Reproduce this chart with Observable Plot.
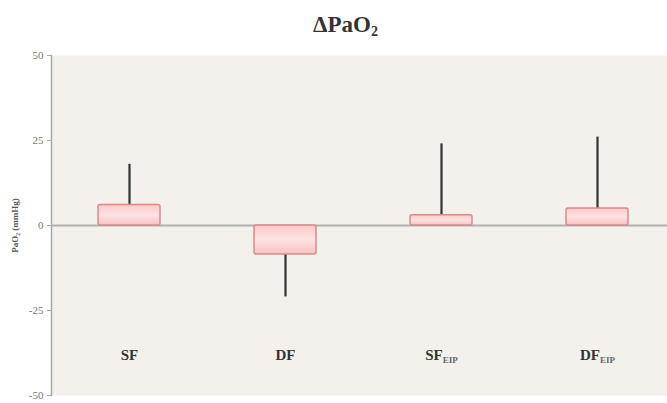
<!DOCTYPE html>
<html><head><meta charset="utf-8">
<script src="https://cdn.jsdelivr.net/npm/d3@7"></script>
<script src="https://cdn.jsdelivr.net/npm/@observablehq/plot@0.6"></script>
<style>
body{margin:0;background:#fff;width:667px;height:403px;overflow:hidden;font-family:"Liberation Serif",serif}
#title{height:45px;line-height:50px;text-align:center;font-weight:bold;font-size:23px;color:#333;padding-left:24px;box-sizing:border-box}
#title sub{font-size:14px;vertical-align:-4px}
</style></head><body>
<div id="title">ΔPaO<sub>2</sub></div>
<div id="chart"></div>
<script>
const categories = ["SF", "DF", "SF", "DF"];
const subscripts = ["", "", "EIP", "EIP"];
const keys = ["SF", "DF", "SF_EIP", "DF_EIP"];
const boxValues = [6, -8.5, 3, 5];
const whiskerValues = [18, -21, 24, 26];
const yTicks = [-50, -25, 0, 25, 50];
const labelY = -38;

const data = keys.map((k, i) => ({key: k, label: categories[i], sub: subscripts[i], box: boxValues[i], whisker: whiskerValues[i]}));

const chart = Plot.plot({
  width: 667, height: 358,
  marginTop: 10, marginBottom: 8, marginLeft: 51, marginRight: 0,
  style: {fontFamily: "Liberation Serif, serif", background: "transparent", overflow: "hidden"},
  x: {domain: keys, paddingInner: 0.6, paddingOuter: 0.3, range: [51, 675], axis: null},
  y: {domain: [-50, 50], ticks: yTicks},
  marks: [
    Plot.frame({fill: "#f4f1ec", stroke: null}),
    Plot.frame({anchor: "left", stroke: "#a8a8a8", strokeWidth: 1.5}),
    Plot.axisY({ticks: yTicks, tickSize: 4, stroke: "#a8a8a8", fill: "#777", fontSize: 11, label: null, tickPadding: 4, tickFormat: d => String(d)}),
    Plot.axisY({ticks: [], label: "PaO₂ (mmHg)", labelArrow: "none", labelAnchor: "center", labelOffset: 40, fontSize: 9, fontWeight: "bold", fill: "#555"}),
    Plot.ruleY([0], {stroke: "#b0b0b0", strokeWidth: 2}),
    Plot.ruleX(data, {x: "key", y1: "box", y2: "whisker", stroke: "#333", strokeWidth: 2.2}),
    Plot.barY(data, {x: "key", y1: 0, y2: "box", fill: "url(#pinkgrad)", stroke: "#d88a8a", strokeWidth: 1.5, rx: 2}),
    Plot.text(data, {x: "key", y: () => labelY, text: "label", fontSize: 15, fontWeight: "bold", fill: "#333"})
  ]
});

const defs = d3.select(chart).insert("defs", ":first-child");
const g = defs.append("linearGradient").attr("id", "pinkgrad").attr("x1", 0).attr("x2", 0).attr("y1", 0).attr("y2", 1);
g.append("stop").attr("offset", "0%").attr("stop-color", "#fbc8c8");
g.append("stop").attr("offset", "50%").attr("stop-color", "#fde2e2");
g.append("stop").attr("offset", "100%").attr("stop-color", "#f8c2c2");

d3.select(chart).selectAll('g[aria-label="text"] text').each(function(d, i) {
  const s = subscripts[i];
  if (s) {
    d3.select(this).append("tspan").attr("font-size", 9).attr("dy", "0.4em").attr("fill", "#666").text(s);
  }
});

document.getElementById("chart").appendChild(chart);
</script>
</body></html>
